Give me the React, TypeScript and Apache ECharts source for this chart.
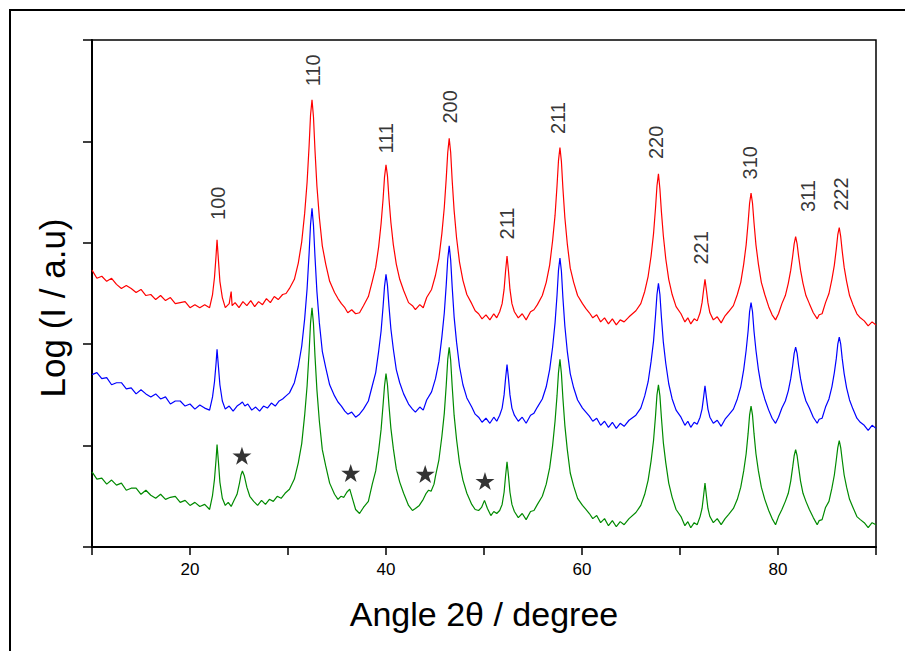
import React, { useEffect, useRef } from "react";
import * as echarts from "echarts";

// Angle 2θ (degree), log intensity (arbitrary offset units)
const redTrace: number[][] = [
  [10,273],[10.5,265],[11,267],[11.5,262],[12,265],[12.5,259],[13,255],[13.5,258],[14,255],[14.5,251],[15,254],[15.5,248],[16,249],[16.5,244],[17,248],[17.5,243],[18,246],[18.5,240],[19,241],[19.5,242],[20,236],[20.5,239],[21,236],[21.5,239],[22,236],
  [22.3,249],[22.5,266],[22.65,286],[22.76,303],[22.9,283],[23.05,262],[23.3,246],[23.6,236],
  [24,240],[24.2,252],[24.3,238],[24.6,241],[25,236],[25.4,242],[25.8,238],[26.2,243],[26.6,237],[27,242],[27.4,239],[27.8,245],[28.2,241],[28.6,247],[29,244],[29.45,249],[29.8,250],
  [30.15,255],[30.65,264],[31.05,280],[31.4,301],[31.7,329],[31.95,360],[32.15,395],[32.3,426],[32.45,441],[32.6,424],[32.75,392],[32.95,356],[33.2,325],[33.5,297],[33.85,279],[34.25,262],[34.75,251],[35.1,245],[35.45,240],[35.8,236],[36.1,231],[36.5,234],[36.9,230],[37.3,231],
  [37.7,238],[38.2,247],[38.6,262],[38.95,276],[39.25,296],[39.5,319],[39.7,343],[39.85,365],[40,377],[40.15,366],[40.3,344],[40.5,320],[40.75,298],[41.05,279],[41.4,264],[41.8,253],[42.3,241],[42.7,238],[43,234],[43.45,239],[43.8,236],
  [44.15,246],[44.65,254],[45.05,268],[45.4,285],[45.7,309],[45.95,335],[46.15,364],[46.3,389],[46.45,403],[46.6,389],[46.75,362],[46.95,332],[47.2,305],[47.5,281],[47.85,263],[48.25,249],[48.75,240],[49.1,233],[49.45,230],[49.8,225],[50.2,229],[50.6,224],[51,230],[51.3,226],
  [51.6,232],[51.85,240],[52.05,254],[52.2,272],[52.35,287],[52.5,272],[52.65,254],[52.85,240],[53.1,232],[53.5,226],[53.9,230],[54.3,224],[54.75,232],
  [55.1,234],[55.45,239],[55.95,248],[56.35,261],[56.7,278],[57,302],[57.25,327],[57.45,356],[57.6,381],[57.75,394],[57.9,380],[58.05,354],[58.25,325],[58.5,299],[58.8,275],[59.15,261],[59.55,248],[60.05,240],[60.4,235],[60.75,231],[61.1,226],[61.5,229],[61.9,222],[62.3,226],[62.7,220],[63.1,225],[63.5,219],[63.9,224],[64.3,222],[64.8,227],
  [65.5,233],[66,240],[66.4,252],[66.75,267],[67.05,287],[67.3,309],[67.5,334],[67.65,356],[67.8,368],[67.95,353],[68.1,331],[68.3,307],[68.55,284],[68.85,264],[69.2,249],[69.6,237],[70.1,230],[70.5,222],[70.8,226],[71.1,220],[71.45,225],[71.75,223],
  [72.05,231],[72.25,241],[72.4,253],[72.55,264],[72.7,253],[72.85,241],[73.05,231],[73.4,224],[73.8,227],[74.2,221],[74.6,228],
  [74.95,232],[75.45,238],[75.85,249],[76.2,261],[76.5,279],[76.75,298],[76.95,320],[77.1,339],[77.25,349],[77.4,339],[77.55,320],[77.75,298],[78,279],[78.3,261],[78.65,249],[79.05,237],[79.4,229],[79.75,224],
  [80.05,230],[80.4,240],[80.75,248],[81.05,260],[81.3,273],[81.5,287],[81.65,299],[81.8,306],[81.95,299],[82.1,287],[82.3,273],[82.55,260],[82.85,248],[83.2,240],[83.6,231],[84,225],[84.2,229],[84.5,230],
  [84.85,241],[85.2,250],[85.5,264],[85.75,278],[85.95,294],[86.1,308],[86.25,315],[86.4,306],[86.55,292],[86.75,276],[87,262],[87.3,248],[87.65,239],[88.05,230],[88.4,226],[88.8,223],[89.2,218],[89.6,222],[90,219]
];

const blueTrace: number[][] = [
  [10,170],[10.5,172],[11,166],[11.5,167],[12,160],[12.5,162],[13,162],[13.5,156],[14,157],[14.5,151],[15,155],[15.5,151],[16,148],[16.5,151],[17,146],[17.5,148],[18,141],[18.5,144],[19,144],[19.5,139],[20,141],[20.5,136],[21,140],[21.5,137],[22,135],
  [22.3,148],[22.5,163],[22.65,180],[22.76,195],[22.9,178],[23.05,160],[23.3,144],[23.6,136],
  [24,139],[24.4,134],[24.8,139],[25.1,141],[25.35,143],[25.6,139],[25.9,141],[26.3,135],[26.7,138],[27.1,134],[27.5,139],[27.9,137],[28.3,142],[28.7,139],[29.1,144],[29.45,146],[29.8,149],
  [30.15,152],[30.65,162],[31.05,178],[31.4,198],[31.7,225],[31.95,255],[32.15,289],[32.3,318],[32.45,334],[32.6,317],[32.75,287],[32.95,252],[33.2,221],[33.5,193],[33.85,177],[34.25,160],[34.75,149],[35.1,143],[35.45,139],[35.8,134],[36.1,131],[36.5,133],[36.9,128],[37.3,131],
  [37.7,136],[38.2,144],[38.6,159],[38.95,172],[39.25,193],[39.5,213],[39.7,237],[39.85,257],[40,269],[40.15,258],[40.3,238],[40.5,215],[40.75,195],[41.05,175],[41.4,162],[41.8,151],[42.3,141],[42.7,136],[43,133],[43.45,138],[43.8,135],
  [44.15,145],[44.65,153],[45.05,166],[45.4,183],[45.7,207],[45.95,231],[46.15,259],[46.3,284],[46.45,297],[46.6,283],[46.75,257],[46.95,227],[47.2,202],[47.5,178],[47.85,160],[48.25,147],[48.75,138],[49.1,131],[49.45,128],[49.8,123],[50.2,127],[50.6,122],[51,128],[51.3,124],
  [51.6,130],[51.85,137],[52.05,150],[52.2,166],[52.35,180],[52.5,166],[52.65,150],[52.85,137],[53.1,130],[53.5,124],[53.9,128],[54.3,122],[54.75,130],
  [55.1,132],[55.45,138],[55.95,146],[56.35,158],[56.7,175],[57,197],[57.25,221],[57.45,248],[57.6,273],[57.75,285],[57.9,272],[58.05,246],[58.25,218],[58.5,193],[58.8,171],[59.15,157],[59.55,145],[60.05,137],[60.4,133],[60.75,129],[61.1,124],[61.5,127],[61.9,120],[62.3,124],[62.7,118],[63.1,123],[63.5,117],[63.9,122],[64.3,119],[64.8,125],
  [65.5,130],[66,137],[66.4,149],[66.75,163],[67.05,183],[67.3,203],[67.5,228],[67.65,249],[67.8,260],[67.95,249],[68.1,227],[68.3,202],[68.55,181],[68.85,161],[69.2,146],[69.6,135],[70.1,128],[70.5,120],[70.8,124],[71.1,118],[71.45,123],[71.75,121],
  [72.05,128],[72.25,136],[72.4,147],[72.55,159],[72.7,147],[72.85,136],[73.05,128],[73.4,122],[73.8,125],[74.2,119],[74.6,126],
  [74.95,130],[75.45,136],[75.85,146],[76.2,158],[76.5,175],[76.75,194],[76.95,213],[77.1,232],[77.25,241],[77.4,232],[77.55,213],[77.75,194],[78,175],[78.3,158],[78.65,146],[79.05,135],[79.4,127],[79.75,122],
  [80.05,128],[80.4,137],[80.75,144],[81.05,154],[81.3,166],[81.5,179],[81.65,191],[81.8,197],[81.95,191],[82.1,179],[82.3,166],[82.55,154],[82.85,144],[83.2,137],[83.6,128],[84,122],[84.2,126],[84.5,127],
  [84.85,138],[85.2,146],[85.5,158],[85.75,172],[85.95,186],[86.1,200],[86.25,207],[86.4,200],[86.55,186],[86.75,171],[87,157],[87.3,145],[87.65,136],[88.05,127],[88.4,123],[88.8,120],[89.2,115],[89.6,120],[90,117]
];

const greenTrace: number[][] = [
  [10,74],[10.5,67],[11,68],[11.5,62],[12,66],[12.5,61],[13,63],[13.5,56],[14,58],[14.5,58],[15,52],[15.5,56],[16,51],[16.5,48],[17,52],[17.5,47],[18,49],[18.5,50],[19,44],[19.5,46],[20,41],[20.5,44],[21,40],[21.5,42],[22,37],
  [22.3,51],[22.5,67],[22.65,85],[22.76,101],[22.9,84],[23.05,64],[23.3,48],[23.6,41],[23.9,44],[24.2,40],
  [24.5,46],[24.8,52],[25.05,63],[25.2,71],[25.35,75],[25.55,70],[25.8,59],[26.1,50],[26.5,45],[26.9,41],[27.3,46],[27.7,42],[28.1,47],[28.5,45],[28.9,50],[29.3,48],[29.7,53],
  [30.15,57],[30.65,67],[31.05,83],[31.4,102],[31.7,130],[31.95,159],[32.15,192],[32.3,221],[32.45,236],[32.6,220],[32.75,189],[32.95,155],[33.2,124],[33.5,96],[33.85,80],[34.25,63],[34.75,52],[35.1,47],[35.4,50],[35.7,49],[36,54],[36.3,57],[36.6,47],[36.9,37],[37.3,33],[37.7,39],
  [38.2,45],[38.6,62],[38.95,75],[39.25,95],[39.5,116],[39.7,140],[39.85,159],[40,171],[40.15,160],[40.3,140],[40.5,117],[40.75,97],[41.05,77],[41.4,64],[41.8,53],[42.3,41],[42.7,36],[43,38],[43.4,41],[43.8,47],[44.1,53],[44.35,56],[44.6,55],[44.9,62],
  [45.05,70],[45.4,86],[45.7,109],[45.95,132],[46.15,160],[46.3,185],[46.45,197],[46.6,184],[46.75,159],[46.95,130],[47.2,106],[47.5,83],[47.85,66],[48.25,53],[48.75,42],[49.1,37],[49.45,36],[49.75,39],[50.05,46],[50.35,38],[50.7,31],[51,35],[51.3,33],
  [51.6,36],[51.85,42],[52.05,54],[52.2,70],[52.35,84],[52.5,70],[52.65,54],[52.85,42],[53.1,35],[53.5,29],[53.9,33],[54.3,27],[54.75,35],
  [55.1,36],[55.45,42],[55.95,50],[56.35,62],[56.7,78],[57,100],[57.25,124],[57.45,149],[57.6,172],[57.75,185],[57.9,171],[58.05,147],[58.25,120],[58.5,96],[58.8,73],[59.15,60],[59.55,48],[60.05,41],[60.4,37],[60.75,33],[61.1,28],[61.5,31],[61.9,24],[62.3,28],[62.7,21],[63.1,26],[63.5,20],[63.9,25],[64.3,22],[64.8,28],
  [65.5,34],[66,41],[66.4,52],[66.75,66],[67.05,85],[67.3,105],[67.5,129],[67.65,150],[67.8,160],[67.95,149],[68.1,128],[68.3,103],[68.55,83],[68.85,63],[69.2,49],[69.6,37],[70.1,30],[70.5,21],[70.8,25],[71.1,19],[71.45,24],[71.75,22],
  [72.05,30],[72.25,38],[72.4,50],[72.55,63],[72.7,50],[72.85,38],[73.05,30],[73.4,24],[73.8,28],[74.2,22],[74.6,28],
  [74.95,32],[75.45,38],[75.85,47],[76.2,59],[76.5,75],[76.75,92],[76.95,112],[77.1,130],[77.25,139],[77.4,130],[77.55,112],[77.75,92],[78,75],[78.3,59],[78.65,47],[79.05,36],[79.4,28],[79.75,22],
  [80.05,30],[80.4,37],[80.75,45],[81.05,53],[81.3,65],[81.5,79],[81.65,90],[81.8,96],[81.95,90],[82.1,79],[82.3,65],[82.55,53],[82.85,45],[83.2,37],[83.6,29],[84,22],[84.2,26],[84.5,27],
  [84.85,39],[85.2,45],[85.5,58],[85.75,71],[85.95,86],[86.1,98],[86.25,105],[86.4,98],[86.55,86],[86.75,71],[87,59],[87.3,47],[87.65,39],[88.05,30],[88.4,27],[88.8,24],[89.2,19],[89.6,24],[90,22]
];

// Miller-index labels: angle, height, text
const peakLabelAngles = [22.83, 32.6, 40.0, 46.55, 52.35, 57.55, 67.55, 72.12, 77.16, 83.04, 86.45];
const peakLabelHeights = [339, 470, 403, 434, 319, 423, 399, 295, 379, 346, 348];
const peakLabelTexts = ["100", "110", "111", "200", "211", "211", "220", "221", "310", "311", "222"];

// Impurity markers (stars) on the green pattern
const starAngles = [25.3, 36.4, 44.0, 50.1];
const starHeights = [90, 73, 72, 65];

const xTickLabels = ["20", "40", "60", "80"];

const STAR = "path://M50 0L61.2 34.5L97.6 34.5L68.2 55.9L79.4 90.5L50 69.1L20.6 90.5L31.8 55.9L2.4 34.5L38.8 34.5Z";
const FONT = "'Liberation Sans', Arial, sans-serif";

export default function App() {
  const ref = useRef<HTMLDivElement>(null);
  useEffect(() => {
    if (!ref.current) return;
    const chart = echarts.init(ref.current, undefined, { renderer: "svg" });
    const lineSeries = (name: string, data: number[][], color: string) => ({
      name,
      type: "line",
      data,
      showSymbol: false,
      symbol: "none",
      silent: true,
      lineStyle: { color, width: 1.2 },
      z: 2,
    });
    chart.setOption({
      animation: false,
      backgroundColor: "#fff",
      grid: { left: 92, right: 29, top: 40, bottom: 104, show: true, borderColor: "#000", borderWidth: 1.5 },
      xAxis: {
        type: "value",
        min: 10,
        max: 90,
        interval: 10,
        name: "Angle 2\u03b8 / degree",
        nameLocation: "middle",
        nameGap: 50,
        nameTextStyle: { fontSize: 34, color: "#000", fontFamily: FONT },
        axisLine: { show: true, lineStyle: { color: "#000", width: 2 } },
        axisTick: { show: true, inside: false, length: 8, lineStyle: { color: "#000", width: 1.5 } },
        axisLabel: {
          margin: 14,
          fontSize: 17,
          color: "#000",
          fontFamily: FONT,
          formatter: (v: number) => (xTickLabels.includes(String(v)) ? String(v) : ""),
        },
        splitLine: { show: false },
      },
      yAxis: {
        type: "value",
        min: 0,
        max: 500,
        interval: 100,
        axisLine: { show: true, lineStyle: { color: "#000", width: 2 } },
        axisTick: { show: true, inside: false, length: 9, lineStyle: { color: "#000", width: 1.5 } },
        axisLabel: { show: false },
        splitLine: { show: false },
      },
      graphic: [
        {
          type: "rect",
          shape: { x: 10, y: 10, width: 1000, height: 1000 },
          style: { fill: "none", stroke: "#000", lineWidth: 2 },
          silent: true,
        },
        {
          type: "text",
          x: 52,
          y: 308,
          rotation: Math.PI / 2,
          style: {
            text: "Log (I / a.u)",
            fontSize: 35,
            fontFamily: FONT,
            fill: "#000",
            align: "center",
            verticalAlign: "middle",
          },
          silent: true,
        },
      ],
      series: [
        lineSeries("red", redTrace, "#ff0000"),
        lineSeries("blue", blueTrace, "#0000ff"),
        lineSeries("green", greenTrace, "#008a00"),
        {
          name: "stars",
          type: "scatter",
          silent: true,
          symbol: STAR,
          symbolSize: [19, 18],
          itemStyle: { color: "#000" },
          data: starAngles.map((a, i) => [a, starHeights[i]]),
          z: 3,
        },
        {
          name: "labels",
          type: "scatter",
          silent: true,
          symbolSize: 1,
          itemStyle: { color: "rgba(0,0,0,0)" },
          label: {
            show: true,
            position: "inside",
            rotate: 90,
            fontSize: 20,
            fontFamily: FONT,
            color: "#000",
            formatter: (p: any) => p.name,
          },
          labelLayout: { hideOverlap: false },
          data: peakLabelAngles.map((a, i) => ({ name: peakLabelTexts[i], value: [a, peakLabelHeights[i]] })),
          z: 4,
        },
      ],
    });
    return () => chart.dispose();
  }, []);
  return <div ref={ref} style={{ position: "absolute", left: 0, top: 0, width: 905, height: 651 }} />;
}
